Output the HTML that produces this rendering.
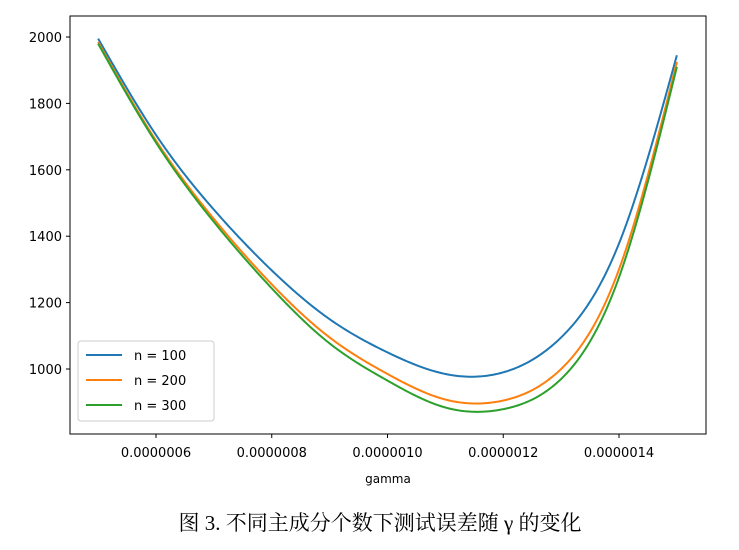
<!DOCTYPE html>
<html><head><meta charset="utf-8"><style>
body{margin:0;background:#fff;width:739px;height:545px;overflow:hidden}
svg text{font-family:"DejaVu Sans","Liberation Sans",sans-serif}
</style></head><body>
<svg width="739" height="545">
<g id="plot"></g>
<text x="380" y="530" text-anchor="middle" style="font-family:'Liberation Serif','Noto Serif CJK SC',serif;font-size:21px">图 3. 不同主成分个数下测试误差随 γ 的变化</text>
</svg>
<script>
const xs=[0.5,0.6,0.7,0.8,0.9,1.0,1.1,1.2,1.3,1.4,1.5];
const s100=[1995,1705,1480,1297,1150,1050,985,990,1095,1378,1945];
const s200=[1985,1688,1452,1255,1095,985,908,905,1000,1300,1925];
const s300=[1980,1682,1443,1243,1077,965,884,879,970,1276,1910];
const seriesNames=["n = 100","n = 200","n = 300"];
const colors=["#1f77b4","#ff7f0e","#2ca02c"];
const yTicks=[1000,1200,1400,1600,1800,2000];
const xTicks=[0.6,0.8,1.0,1.2,1.4];
const xTickLabels=["0.0000006","0.0000008","0.0000010","0.0000012","0.0000014"];
const NS="http://www.w3.org/2000/svg";
const g=document.getElementById('plot');
const X=v=>156+(v-0.6)/0.2*115.75;
const Y=v=>369-(v-1000)*0.332;
function mk(t,a,p){const e=document.createElementNS(NS,t);for(const k in a)e.setAttribute(k,a[k]);(p||g).appendChild(e);return e;}
let f=mk('rect',{x:70,y:16,width:636,height:418,fill:'none',stroke:'#000','stroke-width':1});


yTicks.forEach(v=>{
 const y=Y(v);
 mk('line',{x1:66,x2:70,y1:y,y2:y,stroke:'#000'});
 const t=mk('text',{x:62,y:y+5,'text-anchor':'end','font-size':13});t.textContent=v;
 
 
});
xTicks.forEach((v,i)=>{
 const x=X(v);
 mk('line',{x1:x,x2:x,y1:434,y2:438,stroke:'#000'});
 const t=mk('text',{x:x,y:457,'text-anchor':'middle','font-size':13});t.textContent=xTickLabels[i];
 
 
});
const xt=mk('text',{x:388,y:483,'text-anchor':'middle','font-size':12});xt.textContent='gamma';


// natural cubic spline
function spline(xv,yv){
 const n=xv.length,h=[],al=[],l=[1],mu=[0],z=[0],c=new Array(n).fill(0),b=[],d=[];
 for(let i=0;i<n-1;i++)h[i]=xv[i+1]-xv[i];
 for(let i=1;i<n-1;i++)al[i]=3/h[i]*(yv[i+1]-yv[i])-3/h[i-1]*(yv[i]-yv[i-1]);
 for(let i=1;i<n-1;i++){l[i]=2*(xv[i+1]-xv[i-1])-h[i-1]*mu[i-1];mu[i]=h[i]/l[i];z[i]=(al[i]-h[i-1]*z[i-1])/l[i];}
 for(let j=n-2;j>=0;j--){c[j]=z[j]-mu[j]*c[j+1];b[j]=(yv[j+1]-yv[j])/h[j]-h[j]*(c[j+1]+2*c[j])/3;d[j]=(c[j+1]-c[j])/(3*h[j]);}
 return t=>{let i=Math.min(n-2,Math.max(0,xv.findIndex((v,k)=>k<n-1&&t<=xv[k+1])));if(i<0)i=n-2;const dx=t-xv[i];return yv[i]+b[i]*dx+c[i]*dx*dx+d[i]*dx*dx*dx;};
}
function path(vals){
 const f=spline(xs,vals);
 let d='';
 const a=xs[0],bnd=xs[xs.length-1];
 for(let k=0;k<=300;k++){const t=a+(bnd-a)*k/300;d+=(k?'L':'M')+X(t).toFixed(2)+','+Y(f(t)).toFixed(2);}
 return d;
}
[s100,s200,s300].forEach((s,i)=>{
 const e=mk('path',{d:path(s),fill:'none',stroke:colors[i],'stroke-width':2,'stroke-linejoin':'round'});
 
 
});
const lg=mk('rect',{x:78,y:341,width:136,height:80,fill:'#fff',stroke:'#ccc',rx:3});


seriesNames.forEach((n,i)=>{
 const y=355+i*25;
 mk('line',{x1:86,x2:122,y1:y,y2:y,stroke:colors[i],'stroke-width':2});
 const t=mk('text',{x:134,y:y+5,'font-size':13});t.textContent=n;
 
 
});
</script>
</body></html>
